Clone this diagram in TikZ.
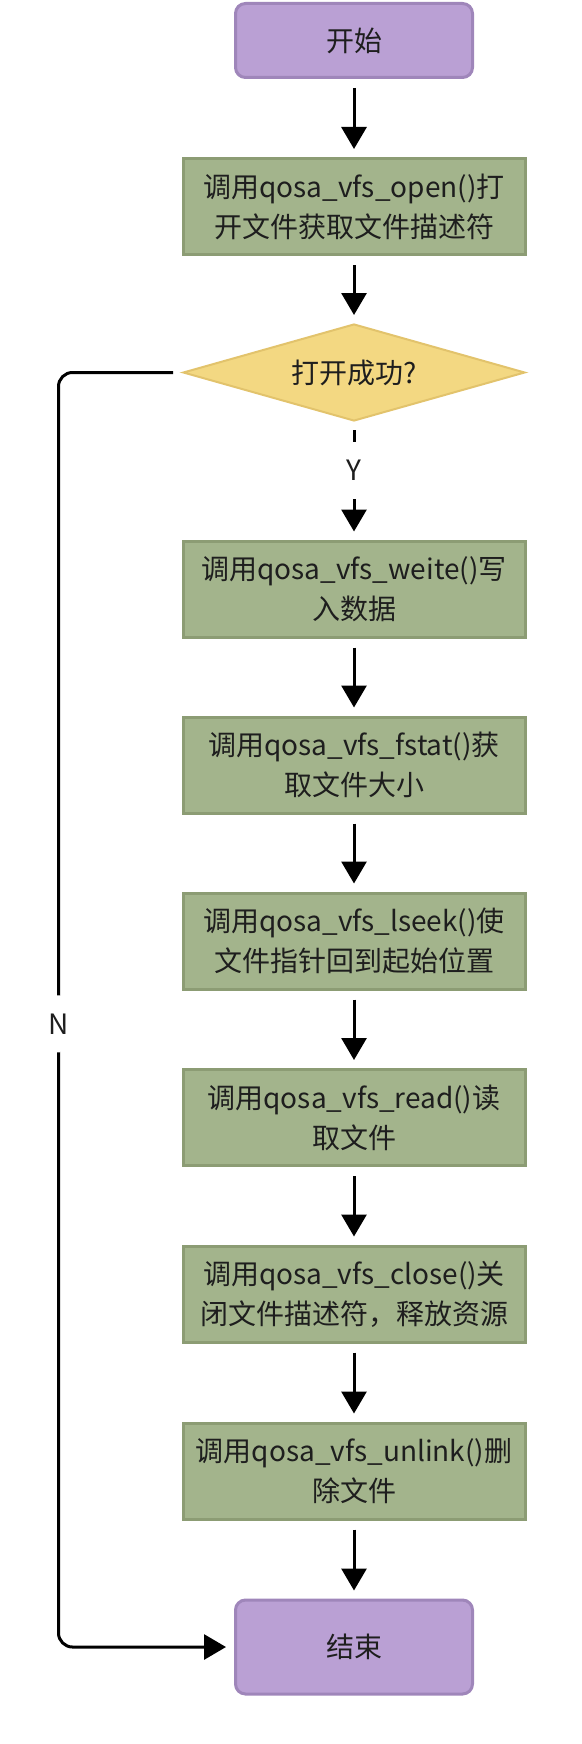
\documentclass[tikz,border=0pt]{standalone}
\usepackage{fontspec}
\setmainfont{Noto Sans CJK SC}
\usetikzlibrary{arrows.meta,shapes.geometric}
\definecolor{purpfill}{HTML}{BAA0D4}
\definecolor{purpline}{HTML}{9F86BA}
\definecolor{grnfill}{HTML}{A3B48C}
\definecolor{grnline}{HTML}{8C9C74}
\definecolor{yelfill}{HTML}{F3D882}
\definecolor{yelline}{HTML}{E2C36C}
\definecolor{txt}{HTML}{1E1E1E}
\begin{document}
\begin{tikzpicture}[x=1pt,y=-1pt,
  every node/.style={font=\fontsize{28}{40}\selectfont, text=txt},
  term/.style={draw=purpline, fill=purpfill, line width=3pt, rounded corners=10pt, minimum width=237pt, inner sep=0pt},
  proc/.style={draw=grnline, fill=grnfill, line width=3pt, minimum width=342pt, minimum height=96pt, inner sep=0pt, align=center},
  decis/.style={diamond, draw=yelline, fill=yelfill, line width=2pt, minimum width=342pt, minimum height=97pt, inner sep=0pt, aspect=3.5},
  flow/.style={line width=3pt, -{Triangle[width=25pt,length=22pt]}, shorten <=9pt, shorten >=8pt},
  lbl/.style={fill=white, inner xsep=2pt, inner ysep=0pt, minimum height=57pt}
]
\useasboundingbox (0,0) rectangle (581,1744);
\node[term, minimum height=74pt] (start) at (354,40.5) {开始};
\node[proc] (b1) at (354,206.5) {调用qosa\_vfs\_open()打\\开文件获取文件描述符};
\node[decis] (dec) at (354,372.5) {打开成功?};
\node[proc] (b2) at (354,589) {调用qosa\_vfs\_weite()写\\入数据};
\node[proc] (b3) at (354,765) {调用qosa\_vfs\_fstat()获\\取文件大小};
\node[proc] (b4) at (354,941) {调用qosa\_vfs\_lseek()使\\文件指针回到起始位置};
\node[proc] (b5) at (354,1117.5) {调用qosa\_vfs\_read()读\\取文件};
\node[proc] (b6) at (354,1294) {调用qosa\_vfs\_close()关\\闭文件描述符，释放资源};
\node[proc] (b7) at (354,1471) {调用qosa\_vfs\_unlink()删\\除文件};
\node[term, minimum height=94pt] (stop) at (354,1647) {结束};
\coordinate (la) at (58.5,372.5);
\coordinate (lb) at (58.5,1647);
\draw[flow] (start) -- (b1);
\draw[flow] (b1) -- (dec);
\draw[flow, shorten <=8pt] (dec) -- node[lbl, pos=0.41] {Y} (b2);
\draw[flow] (b2) -- (b3);
\draw[flow] (b3) -- (b4);
\draw[flow] (b4) -- (b5);
\draw[flow] (b5) -- (b6);
\draw[flow] (b6) -- (b7);
\draw[flow] (b7) -- (stop);
\draw[flow, rounded corners=14pt] (dec.west) -- (la) -- node[lbl, pos=0.511] {N} (lb) -- (stop.west);
\end{tikzpicture}
\end{document}
